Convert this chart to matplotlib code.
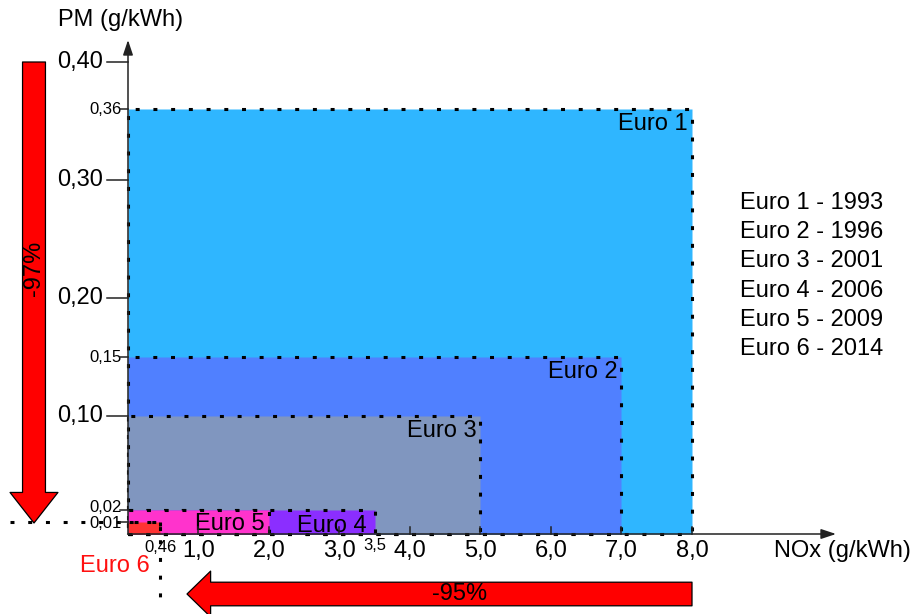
import matplotlib.pyplot as plt
from matplotlib.patches import Rectangle, FancyArrowPatch

plt.rcParams['font.family'] = ['Liberation Sans', 'DejaVu Sans']

# Euro emission standards (heavy duty)
standards = ["Euro 1", "Euro 2", "Euro 3", "Euro 4", "Euro 5", "Euro 6"]
years = [1993, 1996, 2001, 2006, 2009, 2014]
nox = [8.0, 7.0, 5.0, 3.5, 2.0, 0.46]
pm = [0.36, 0.15, 0.10, 0.02, 0.02, 0.01]
colors = ["#2FB6FF", "#5080FF", "#8096BF", "#8B2EFF", "#FF33CC", "#FF3333"]

x_major = [1.0, 2.0, 3.0, 4.0, 5.0, 6.0, 7.0, 8.0]
y_major = [0.10, 0.20, 0.30, 0.40]
y_minor = [0.36, 0.15, 0.02, 0.01]
x_minor = [0.46, 3.5]

nox_drop = "-95%"
pm_drop = "-97%"

# pixel -> data helpers (only used for decorations)
XPX0, XSC = 128, 70.5
YPX0, YSC = 534, 1180


def dx(px):
  return (px - XPX0) / XSC


def dy(py):
  return (YPX0 - py) / YSC


def fmt(v, nd):
  return f"{v:.{nd}f}".replace(".", ",")


fig = plt.figure(figsize=(9.11, 6.14), dpi=100)
ax = fig.add_axes([0, 0, 1, 1])
ax.set_xlim(dx(0), dx(911))
ax.set_ylim(dy(614), dy(0))
ax.axis('off')

DOT = (0, (1.3, 4.5))
FS = 17
SMALL = 12

# rectangles, largest first
for i in range(len(standards)):
  ax.add_patch(Rectangle((0, 0), nox[i], pm[i], facecolor=colors[i],
                         edgecolor='black', linewidth=2.2, linestyle=DOT, zorder=2 + i * 0.1))

# Euro 6 guide lines
ax.plot([dx(10), nox[5]], [pm[5], pm[5]], color='black', lw=2.2, ls=DOT, zorder=3)
ax.plot([nox[5], nox[5]], [pm[5], dy(604)], color='black', lw=2.2, ls=DOT, zorder=3)

# labels inside rectangles
for i in range(3):
  ax.annotate(standards[i], (nox[i], pm[i]), xytext=(-3, -3), textcoords='offset points',
              ha='right', va='top', fontsize=FS, zorder=5)
ax.annotate(standards[3], (nox[3], pm[3] / 2), xytext=(-6, -3), textcoords='offset points',
            ha='right', va='center', fontsize=FS, zorder=5)
ax.annotate(standards[4], (nox[4], pm[4] / 2), xytext=(-3, -1), textcoords='offset points',
            ha='right', va='center', fontsize=FS, zorder=5)
ax.text(dx(150), dy(566), standards[5], color='#FF1010', ha='right', va='center', fontsize=FS)

# axes with arrows
axis_col = '#222222'
ax.annotate('', xy=(0, dy(40)), xytext=(0, 0),
            arrowprops=dict(arrowstyle='-|>,head_length=0.9,head_width=0.3', color=axis_col,
                            lw=1.1, shrinkA=0, shrinkB=0), zorder=6)
ax.annotate('', xy=(dx(836), 0), xytext=(0, 0),
            arrowprops=dict(arrowstyle='-|>,head_length=0.9,head_width=0.3', color=axis_col,
                            lw=1.1, shrinkA=0, shrinkB=0), zorder=6)

# y ticks
for v in y_major:
  ax.plot([dx(107), 0], [v, v], color=axis_col, lw=1.1, zorder=6)
  ax.text(dx(103), v, fmt(v, 2), ha='right', va='center', fontsize=FS)
for v in y_minor:
  ax.plot([dx(120), 0], [v, v], color=axis_col, lw=1.1, zorder=6)
  ax.annotate(fmt(v, 2), (dx(122), v), xytext=(0, 2 if v == 0.02 else -1 if v == 0.01 else 0),
              textcoords='offset points', ha='right', va='center', fontsize=SMALL)

# x ticks
for v in x_major:
  ax.plot([v, v], [0, dy(527)], color=axis_col, lw=1.1, zorder=6)
  ax.text(v, dy(551), fmt(v, 1), ha='center', va='center', fontsize=FS)
ax.text(x_minor[0], dy(548), fmt(x_minor[0], 2), ha='center', va='center', fontsize=SMALL)
ax.text(x_minor[1], dy(546), fmt(x_minor[1], 1), ha='center', va='center', fontsize=SMALL)

# axis titles
ax.text(dx(58), dy(20), "PM (g/kWh)", ha='left', va='center', fontsize=FS)
ax.text(dx(774), dy(551), "NOx (g/kWh)", ha='left', va='center', fontsize=FS)

# legend of years
for i in range(len(standards)):
  ax.text(dx(740), dy(203 + i * 29.2), f"{standards[i]} - {years[i]}",
          ha='left', va='center', fontsize=FS)

# reduction arrows
pm_arrow = FancyArrowPatch((dx(34), y_major[-1]), (dx(34), dy(523)),
                           arrowstyle='simple,tail_width=16.5,head_width=34.5,head_length=22',
                           mutation_scale=1, shrinkA=0, shrinkB=0,
                           facecolor='#FF0000', edgecolor='black', lw=0.9, zorder=4)
ax.add_patch(pm_arrow)
ax.text(dx(34), dy(268), pm_drop, rotation=90, ha='center', va='center', fontsize=FS, zorder=5)

nox_arrow = FancyArrowPatch((nox[0], dy(594)), (dx(187), dy(594)),
                            arrowstyle='simple,tail_width=17,head_width=33,head_length=17',
                            mutation_scale=1, shrinkA=0, shrinkB=0,
                            facecolor='#FF0000', edgecolor='black', lw=0.9, zorder=4)
ax.add_patch(nox_arrow)
ax.text(dx(460), dy(594), nox_drop, ha='center', va='center', fontsize=FS, zorder=5)

fig.savefig('out.png', dpi=100)
